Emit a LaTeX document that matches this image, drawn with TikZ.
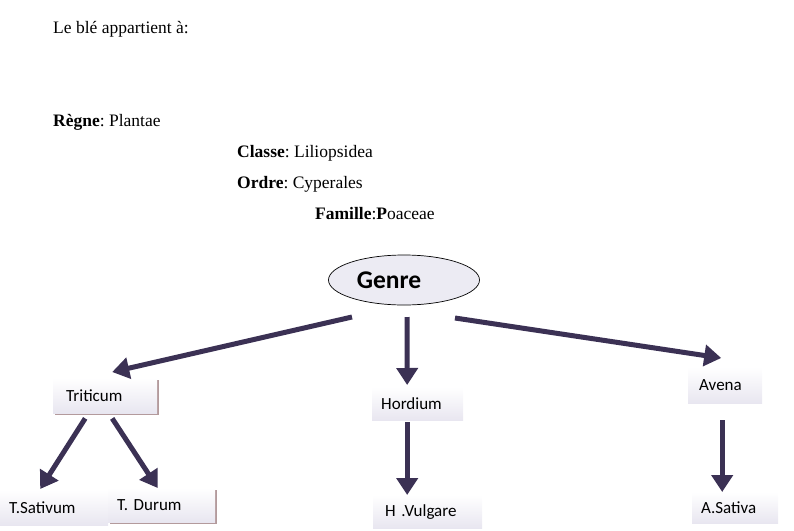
\documentclass[tikz,border=0pt]{standalone}
\usepackage{fontspec}
\setmainfont{Liberation Serif}
\newfontfamily\boxfont{Carlito}
\usetikzlibrary{arrows.meta,shapes.geometric,calc,shadows}
\definecolor{arrcol}{HTML}{3B3154}
\definecolor{boxbot}{HTML}{E8E6F0}
\definecolor{genrefill}{HTML}{ECEBF3}
\definecolor{shcol}{HTML}{B39A9C}
\frenchspacing
\begin{document}
\begin{tikzpicture}[x=1pt,y=-1pt,
  arr/.style={draw=arrcol, line width=5pt, -{Triangle[length=17pt,width=21pt]}},
  tbox/.style={anchor=north west, inner xsep=9pt, inner ysep=0pt, align=left,
    font=\boxfont\fontsize{17}{19}\selectfont, top color=white, bottom color=boxbot},
  shbox/.style={tbox, drop shadow={shadow xshift=2pt, shadow yshift=-2pt, fill=shcol, opacity=1}},
  lbl/.style={anchor=base west, inner sep=0pt, font=\fontsize{17.5}{20}\selectfont}]
\useasboundingbox (0,0) rectangle (794,530);
% header texts
\node[lbl] (t0) at (53,33) {Le blé appartient à:};
\node[lbl] (t1) at (53,126) {\textbf{Règne}: Plantae};
\node[lbl] (t2) at (237,157) {\textbf{Classe}: Liliopsidea};
\node[lbl] (t3) at (237,188) {\textbf{Ordre}: Cyperales};
\node[lbl] (t4) at (315,219) {\textbf{Famille}:\textbf{P}oaceae};
% Genre
\node[ellipse, draw=black, line width=0.7pt, fill=genrefill, minimum width=151pt, minimum height=50pt,
  label={[xshift=-15pt, font=\boxfont\bfseries\fontsize{25.5}{28}\selectfont]center:Genre}] (genre) at (404,280) {};
% boxes
\node[shbox, minimum height=35pt, text width=86pt, inner xsep=9pt] (tri) at (53,378) {\hspace{4pt}Triticum};
\node[tbox, minimum height=33pt, text width=73pt] (hor) at (372,387) {Hordium};
\node[tbox, minimum height=36pt, text width=56pt] (ave) at (688,367) {\hspace{2pt}Avena};
\node[tbox, minimum height=35pt, text width=90pt] (tsa) at (0,490) {T.Sativum};
\node[shbox, minimum height=34pt, text width=89pt] (tdu) at (108,488) {T. Durum};
\node[tbox, minimum height=33pt, text width=91pt] (hvu) at (373,495) {\hspace{3pt}H .Vulgare};
\node[tbox, minimum height=31pt, text width=68pt] (asa) at (692,492) {A.Sativa};
% connectors
\draw[arr] ($(genre.center)+(-52,37)$) -- ($(tri.north)+(7,-6)$);
\draw[arr] ($(genre.center)+(3,37)$) -- ($(hor.north)+(-10.5,-2)$);
\draw[arr] ($(genre.center)+(51,38)$) -- ($(ave.north)+(-4,-9)$);
\draw[arr] ($(tri.south)+(-20,5)$) -- ($(tsa.north)+(-14,-1)$);
\draw[arr] ($(tri.south)+(7,5)$) -- ($(tdu.north)+(-4,0)$);
\draw[arr] ($(hor.south)+(-10.5,2)$) -- ($(hvu.north)+(-20.5,0)$);
\draw[arr] ($(ave.south)+(-3,17)$) -- ($(asa.north)+(-13,0)$);
\end{tikzpicture}
\end{document}
